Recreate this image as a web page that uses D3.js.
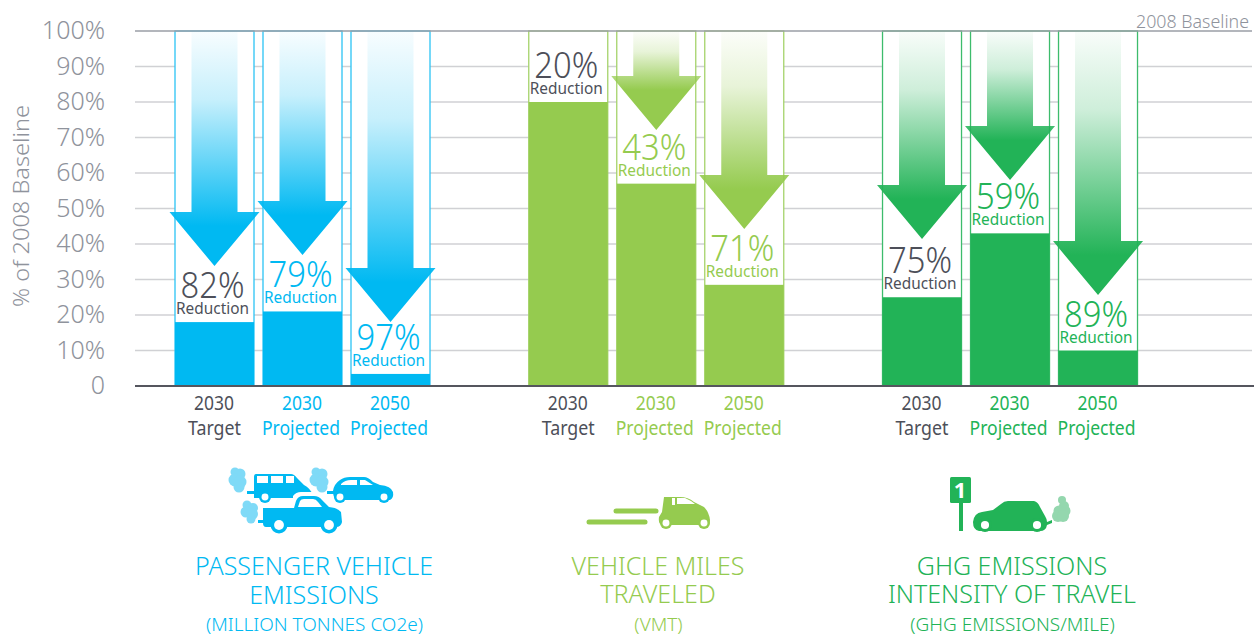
<!DOCTYPE html>
<html><head><meta charset="utf-8">
<script src="https://cdn.jsdelivr.net/npm/d3@7/dist/d3.min.js"></script>
<style>html,body{margin:0;padding:0;background:#fff}svg{display:block}text{font-family:"Noto Sans",sans-serif}</style>
</head><body><svg id="c" width="1254" height="636"></svg>
<script>
const yTicks=[0,10,20,30,40,50,60,70,80,90,100];
const groupNames=["Passenger","VMT","GHG"];
const groupColors=["#00b9f2","#95cb4f","#22b357"];
const outlineColors=["#2cc4f4","#a5d36a","#3dbc6c"];
const groupTitles=[["PASSENGER VEHICLE","EMISSIONS"],["VEHICLE MILES","TRAVELED"],["GHG EMISSIONS","INTENSITY OF TRAVEL"]];
const groupSubtitles=["(MILLION TONNES CO2e)","(VMT)","(GHG EMISSIONS/MILE)"];
const barYears=["2030","2030","2050"];
const barKinds=["Target","Projected","Projected"];
const remainingValues=[[18,21,3.4],[80,57,28.5],[25,43,10]];
const arrowTipValues=[[33.8,36.9,18],[null,72.1,44.2],[41.4,58,25.6]];
const reductionLabels=[["82%","79%","97%"],["20%","43%","71%"],["75%","59%","89%"]];

const svg=d3.select("#c");
const DARK="#4d4f59",GRAY="#8f939c",GRID="#d0d1d4";
const y=d3.scaleLinear().domain([0,100]).range([386,31]);
const x=d3.scaleLinear().domain([0,11]).range([175,1143]);
const BW=79,HEAD=54,HALF=45,SHAFT=23;

// grid + y axis
const axis=d3.axisLeft(y).tickValues(yTicks).tickSize(0).tickPadding(30)
  .tickFormat(d=>d===0?"0":d+"%");
const ax=svg.append("g").attr("transform","translate(135,-1)").call(axis);
ax.select(".domain").remove();
ax.selectAll("text").attr("fill",GRAY).style("font-size","25px").style("font-weight",300).attr("dy","0.34em");
svg.append("g").selectAll("line").data(yTicks.filter(d=>d>0&&d<100)).join("line")
  .attr("x1",135).attr("x2",1252).attr("y1",d=>y(d)).attr("y2",d=>y(d))
  .attr("stroke",GRID).attr("stroke-width",1.4);
svg.append("text").attr("transform","translate(29,206) rotate(-90)").attr("text-anchor","middle")
  .attr("fill",GRAY).style("font-size","22.5px").style("font-weight",300).attr("textLength",202).attr("lengthAdjust","spacingAndGlyphs").text("% of 2008 Baseline");
svg.append("text").attr("x",1249).attr("y",28).attr("text-anchor","end").attr("fill",GRAY)
  .style("font-size","18.5px").style("font-weight",300).attr("textLength",113).attr("lengthAdjust","spacingAndGlyphs").text("2008 Baseline");

const defs=svg.append("defs");
const items=[];
groupNames.forEach((g,gi)=>barYears.forEach((yr,bi)=>items.push({gi,bi,yr,kind:barKinds[bi],
  v:remainingValues[gi][bi],tip:arrowTipValues[gi][bi],label:reductionLabels[gi][bi],slot:gi*4.02+bi})));

items.forEach((d,i)=>{
  const col=groupColors[d.gi];
  const gr=d3.select(svg.node());
  const X=x(d.slot),cx=X+BW/2,top=y(d.v);
  gr.append("rect").attr("x",X).attr("y",y(100)).attr("width",BW).attr("height",y(0)-y(100))
    .attr("fill","#fff").attr("stroke",outlineColors[d.gi]).attr("stroke-width",1.3);
  gr.append("rect").attr("x",X).attr("y",top).attr("width",BW).attr("height",y(0)-top).attr("fill",col);
  if(d.tip!==null){
    const tip=y(d.tip),hd=tip-HEAD,gid="g"+i;
    const lg=defs.append("linearGradient").attr("id",gid).attr("gradientUnits","userSpaceOnUse")
      .attr("x1",0).attr("x2",0).attr("y1",y(100)).attr("y2",hd+14);
    lg.append("stop").attr("offset",0).attr("stop-color",col).attr("stop-opacity",0.03);
    lg.append("stop").attr("offset",0.35).attr("stop-color",col).attr("stop-opacity",0.22);
    lg.append("stop").attr("offset",1).attr("stop-color",col).attr("stop-opacity",1);
    gr.append("path").attr("fill",`url(#${gid})`)
      .attr("d",`M${cx-SHAFT} ${y(100)+1}H${cx+SHAFT}V${hd}H${cx+HALF}L${cx} ${tip}L${cx-HALF} ${hd}H${cx-SHAFT}Z`);
  }
  const tc=d.kind==="Target"?DARK:col;
  gr.append("text").attr("x",cx-2).attr("y",top-24).attr("text-anchor","middle").attr("fill",tc)
    .style("font-size","36px").style("font-weight",300).attr("textLength",64).attr("lengthAdjust","spacingAndGlyphs").text(d.label);
  gr.append("text").attr("x",cx-2).attr("y",top-8).attr("text-anchor","middle").attr("fill",tc)
    .style("font-size","17px").attr("textLength",73).attr("lengthAdjust","spacingAndGlyphs").text("Reduction");
  gr.append("text").attr("x",cx-0.5).attr("y",409.5).attr("text-anchor","middle").attr("fill",tc)
    .style("font-size","19px").attr("textLength",40).attr("lengthAdjust","spacingAndGlyphs").text(d.yr);
  gr.append("text").attr("x",cx-(d.kind==="Target"?0:1.5)).attr("y",434.5).attr("text-anchor","middle").attr("fill",tc)
    .style("font-size","19px").attr("textLength",d.kind==="Target"?53:78).attr("lengthAdjust","spacingAndGlyphs").text(d.kind);
});
svg.append("line").attr("x1",135).attr("x2",1252).attr("y1",y(100)).attr("y2",y(100)).attr("stroke","#9a9ea6").attr("stroke-width",1.6);
svg.append("line").attr("x1",135).attr("x2",1254).attr("y1",y(0)).attr("y2",y(0)).attr("stroke","#55565e").attr("stroke-width",1.8);

// group titles
const titleCx=[314,658,1012];
groupTitles.forEach((t,gi)=>{
  const col=groupColors[gi];
  t.forEach((s,k)=>svg.append("text").attr("x",titleCx[gi]).attr("y",575+k*29-(gi>0&&k?1:0)).attr("text-anchor","middle")
    .attr("fill",col).style("font-size","25px").style("font-weight",300).text(s));
  svg.append("text").attr("x",titleCx[gi]+0.5).attr("y",631).attr("text-anchor","middle").attr("fill",col)
    .style("font-size","19px").style("font-weight",300).text(groupSubtitles[gi]);
});

// pictograms
function wheel(g,cx,cy,r,col){
  g.append("circle").attr("cx",cx).attr("cy",cy).attr("r",r).attr("fill",col);
  g.append("circle").attr("cx",cx).attr("cy",cy).attr("r",r*0.58).attr("fill","#fff");
}
function puff(g,pts,col){pts.forEach(p=>g.append("circle").attr("cx",p[0]).attr("cy",p[1]).attr("r",p[2]).attr("fill",col));}
const ic=svg.append("g");
const B=groupColors[0],BL="#7fdaf7";
puff(ic,[[235,472,4.5],[240,474,5.5],[235,480,6.5],[240,482,6.5],[239,487,5.5]],BL);
puff(ic,[[316,472,4.5],[322,474,5.5],[316,480,6.5],[322,482,6.5],[322,487,5.5]],BL);
puff(ic,[[247,505,4.5],[253,508,5],[246,512,5.5],[252,514,6],[251,519,4.5]],BL);
ic.append("rect").attr("x",247).attr("y",491).attr("width",7).attr("height",3).attr("fill",B);
ic.append("rect").attr("x",327).attr("y",491).attr("width",7).attr("height",3).attr("fill",B);
ic.append("rect").attr("x",258).attr("y",520).attr("width",6).attr("height",3).attr("fill",B);
// van
ic.append("path").attr("fill",B).attr("d","M256 474H291Q294 474 297 478L304 485Q310 488 313 495L314 498H254V477Q254 474 256 474Z");
ic.selectAll(null).data([[257,476,11],[271,476,12],[286,476,8]]).join("rect").attr("x",d=>d[0]).attr("y",d=>d[1]).attr("width",d=>d[2]).attr("height",7).attr("fill","#fff");
wheel(ic,265,497,6,B);
// small car
ic.append("path").attr("fill",B).attr("d","M333 491Q334 484 340 480Q344 477 350 477H364Q368 477 373 482L380 485Q391 486 393 492Q394 498 390 500H336Q333 497 333 491Z");
ic.append("path").attr("fill","#fff").attr("d","M341 484Q345 480 351 480H357V485H341Z M360 480H365L373 485H360Z");
wheel(ic,340,497,6,B);wheel(ic,384,497,6,B);
// white halo + pickup
ic.append("path").attr("fill","#fff").attr("d","M293 505V496Q296 492 301 492H313Q318 492 323 498L330 503H296Z");
ic.append("path").attr("fill",B).attr("d","M263 508H294L296 501Q298 496 303 496H314Q319 496 322 500L329 507Q338 508 341 512L342 522Q341 527 336 527H266Q263 527 263 523Z");
ic.append("path").attr("fill","#fff").attr("d","M298 507L300 501Q301 499 304 499H313Q316 499 318 502L322 507Z");
wheel(ic,279,525,8.5,B);wheel(ic,329,525,8.5,B);
// VMT
const G=groupColors[1];
ic.selectAll(null).data([[616,656,511],[589,645,522]]).join("line").attr("x1",d=>d[0]).attr("x2",d=>d[1]).attr("y1",d=>d[2]).attr("y2",d=>d[2])
  .attr("stroke",G).attr("stroke-width",5).attr("stroke-linecap","round");
ic.append("path").attr("fill",G).attr("d","M664 497H680Q688 497 694 502L704 507Q709 512 710 520Q710 524 707 525H662Q658 524 659 517L662 512Z");
ic.append("path").attr("fill","#fff").attr("d","M672 498V505H675V498Z M677 498H685Q690 500 695 504H677Z");
wheel(ic,666,523,6,G);wheel(ic,704,523,6,G);
// GHG
const H=groupColors[2];
ic.append("rect").attr("x",950).attr("y",477).attr("width",21).attr("height",26).attr("rx",1.5).attr("fill",H);
ic.append("rect").attr("x",959).attr("y",503).attr("width",4).attr("height",28).attr("fill",H);
ic.append("text").attr("x",960).attr("y",498).attr("text-anchor","middle").attr("fill","#fff").style("font-size","22px").style("font-weight",700).text("1");
ic.append("path").attr("fill",H).attr("d","M973 522Q974 513 982 512L993 510L1001 504Q1004 501 1008 501H1034Q1038 502 1040 507L1045 516Q1047 519 1047 522L1052 520V523L1047 525Q1046 531 1040 531H979Q973 530 973 522Z");
wheel(ic,985,525,7,H);wheel(ic,1037,525,7,H);
puff(ic,[[1062,500,4],[1064,506,5],[1059,511,5.5],[1065,511,5.5],[1058,516,6],[1063,516,6]],"#94d7ae");
</script></body></html>
